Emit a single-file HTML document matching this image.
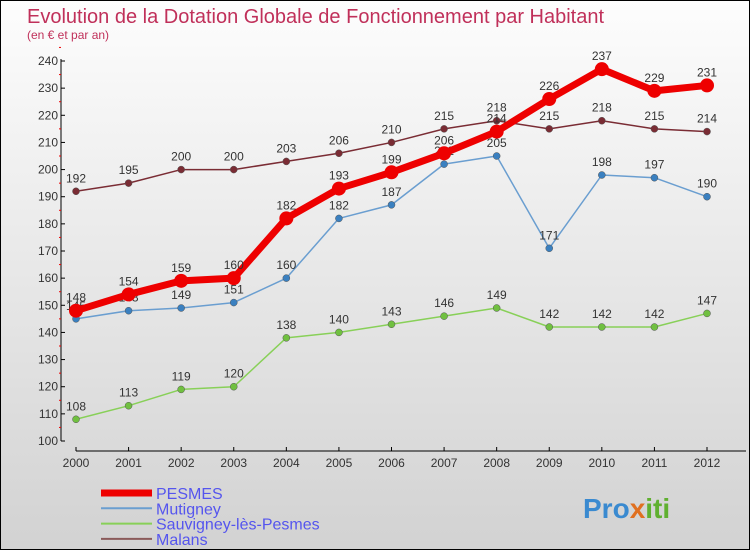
<!DOCTYPE html>
<html><head><meta charset="utf-8"><style>
body{margin:0}
#c{width:750px;height:550px;position:relative;background:linear-gradient(#fdfdfd,#d2d2d2);border:1px solid #000;box-sizing:border-box;font-family:"Liberation Sans",sans-serif;overflow:hidden}
</style></head><body>
<div id="c">
<svg width="750" height="550" id="s">
<text x="26" y="22" font-size="20" fill="#c0305a">Evolution de la Dotation Globale de Fonctionnement par Habitant</text>
<text x="26" y="38" font-size="12" fill="#c0305a">(en € et par an)</text>
<text x="582" y="517" font-size="28" font-weight="bold" fill="#3a8ad0">Pro<tspan fill="#e07020">x</tspan><tspan fill="#60b030">iti</tspan></text>
</svg>
</div>
<script>
const years=[2000,2001,2002,2003,2004,2005,2006,2007,2008,2009,2010,2011,2012];
const yTicks=[100,110,120,130,140,150,160,170,180,190,200,210,220,230,240];
const pesmes=[148,154,159,160,182,193,199,206,214,226,237,229,231];
const mutigney=[145,148,149,151,160,182,187,202,205,171,198,197,190];
const sauvigney=[108,113,119,120,138,140,143,146,149,142,142,142,147];
const malans=[192,195,200,200,203,206,210,215,218,215,218,215,214];
const NS='http://www.w3.org/2000/svg';
const s=document.getElementById('s');
const X=i=>75+i*(706-75)/12;
const Y=v=>440-(v-100)*380/140;
function mk(t,a){const e=document.createElementNS(NS,t);for(const k in a)e.setAttribute(k,a[k]);s.appendChild(e);return e;}
let e=mk('line',{x1:60,y1:58,x2:60,y2:440,stroke:'#000'});


e=mk('line',{x1:75,y1:450,x2:745,y2:450,stroke:'#000'});


yTicks.forEach(v=>{
 mk('line',{x1:60,y1:Y(v),x2:64,y2:Y(v),stroke:'#000'});
 mk('line',{x1:58,y1:Y(v+5),x2:60,y2:Y(v+5),stroke:'#e00'});
 const t=mk('text',{x:57,y:Y(v)+4,'font-size':12,fill:'#333','text-anchor':'end'});t.textContent=v;
 
 
});
years.forEach((yr,i)=>{
 mk('line',{x1:X(i),y1:446,x2:X(i),y2:450,stroke:'#000'});
 const t=mk('text',{x:X(i),y:466,'font-size':12,fill:'#333','text-anchor':'middle'});t.textContent=yr;
 
 
});
const series=[['malans',malans,'#7a2c34',1.5,3.5,'#7a2c34'],['sauvigney',sauvigney,'#88d058',1.5,3.5,'#70c040'],['mutigney',mutigney,'#6a9ed0',1.5,3.5,'#3a80c0'],['pesmes',pesmes,'#ee0000',7,7,'#ee0000']];
series.forEach(([n,d,c,w,r,mc])=>{
 const p=mk('polyline',{points:d.map((v,i)=>X(i)+','+Y(v)).join(' '),fill:'none',stroke:c,'stroke-width':w,'stroke-linejoin':'round'});
 
 
 d.forEach((v,i)=>{
  const m=mk('circle',{cx:X(i),cy:Y(v),r:r,fill:mc,stroke:'#555','stroke-width':n==='pesmes'?0:0.5});
  
  
  const t=mk('text',{x:X(i),y:Y(v)-9,'font-size':12,fill:'#333','text-anchor':'middle'});t.textContent=v;
  
  
 });
});
const leg=[['PESMES','#ee0000',7],['Mutigney','#6a9ed0',2],['Sauvigney-lès-Pesmes','#88d058',2],['Malans','#8a5a5a',2]];
leg.forEach(([n,c,w],i)=>{
 const y=492+i*15.3;
 const l=mk('line',{x1:100,y1:y,x2:151,y2:y,stroke:c,'stroke-width':w});
 
 
 const t=mk('text',{x:155,y:y+6,'font-size':16,fill:'#5555ee'});t.textContent=n;
 
 
});
</script>
</body></html>
